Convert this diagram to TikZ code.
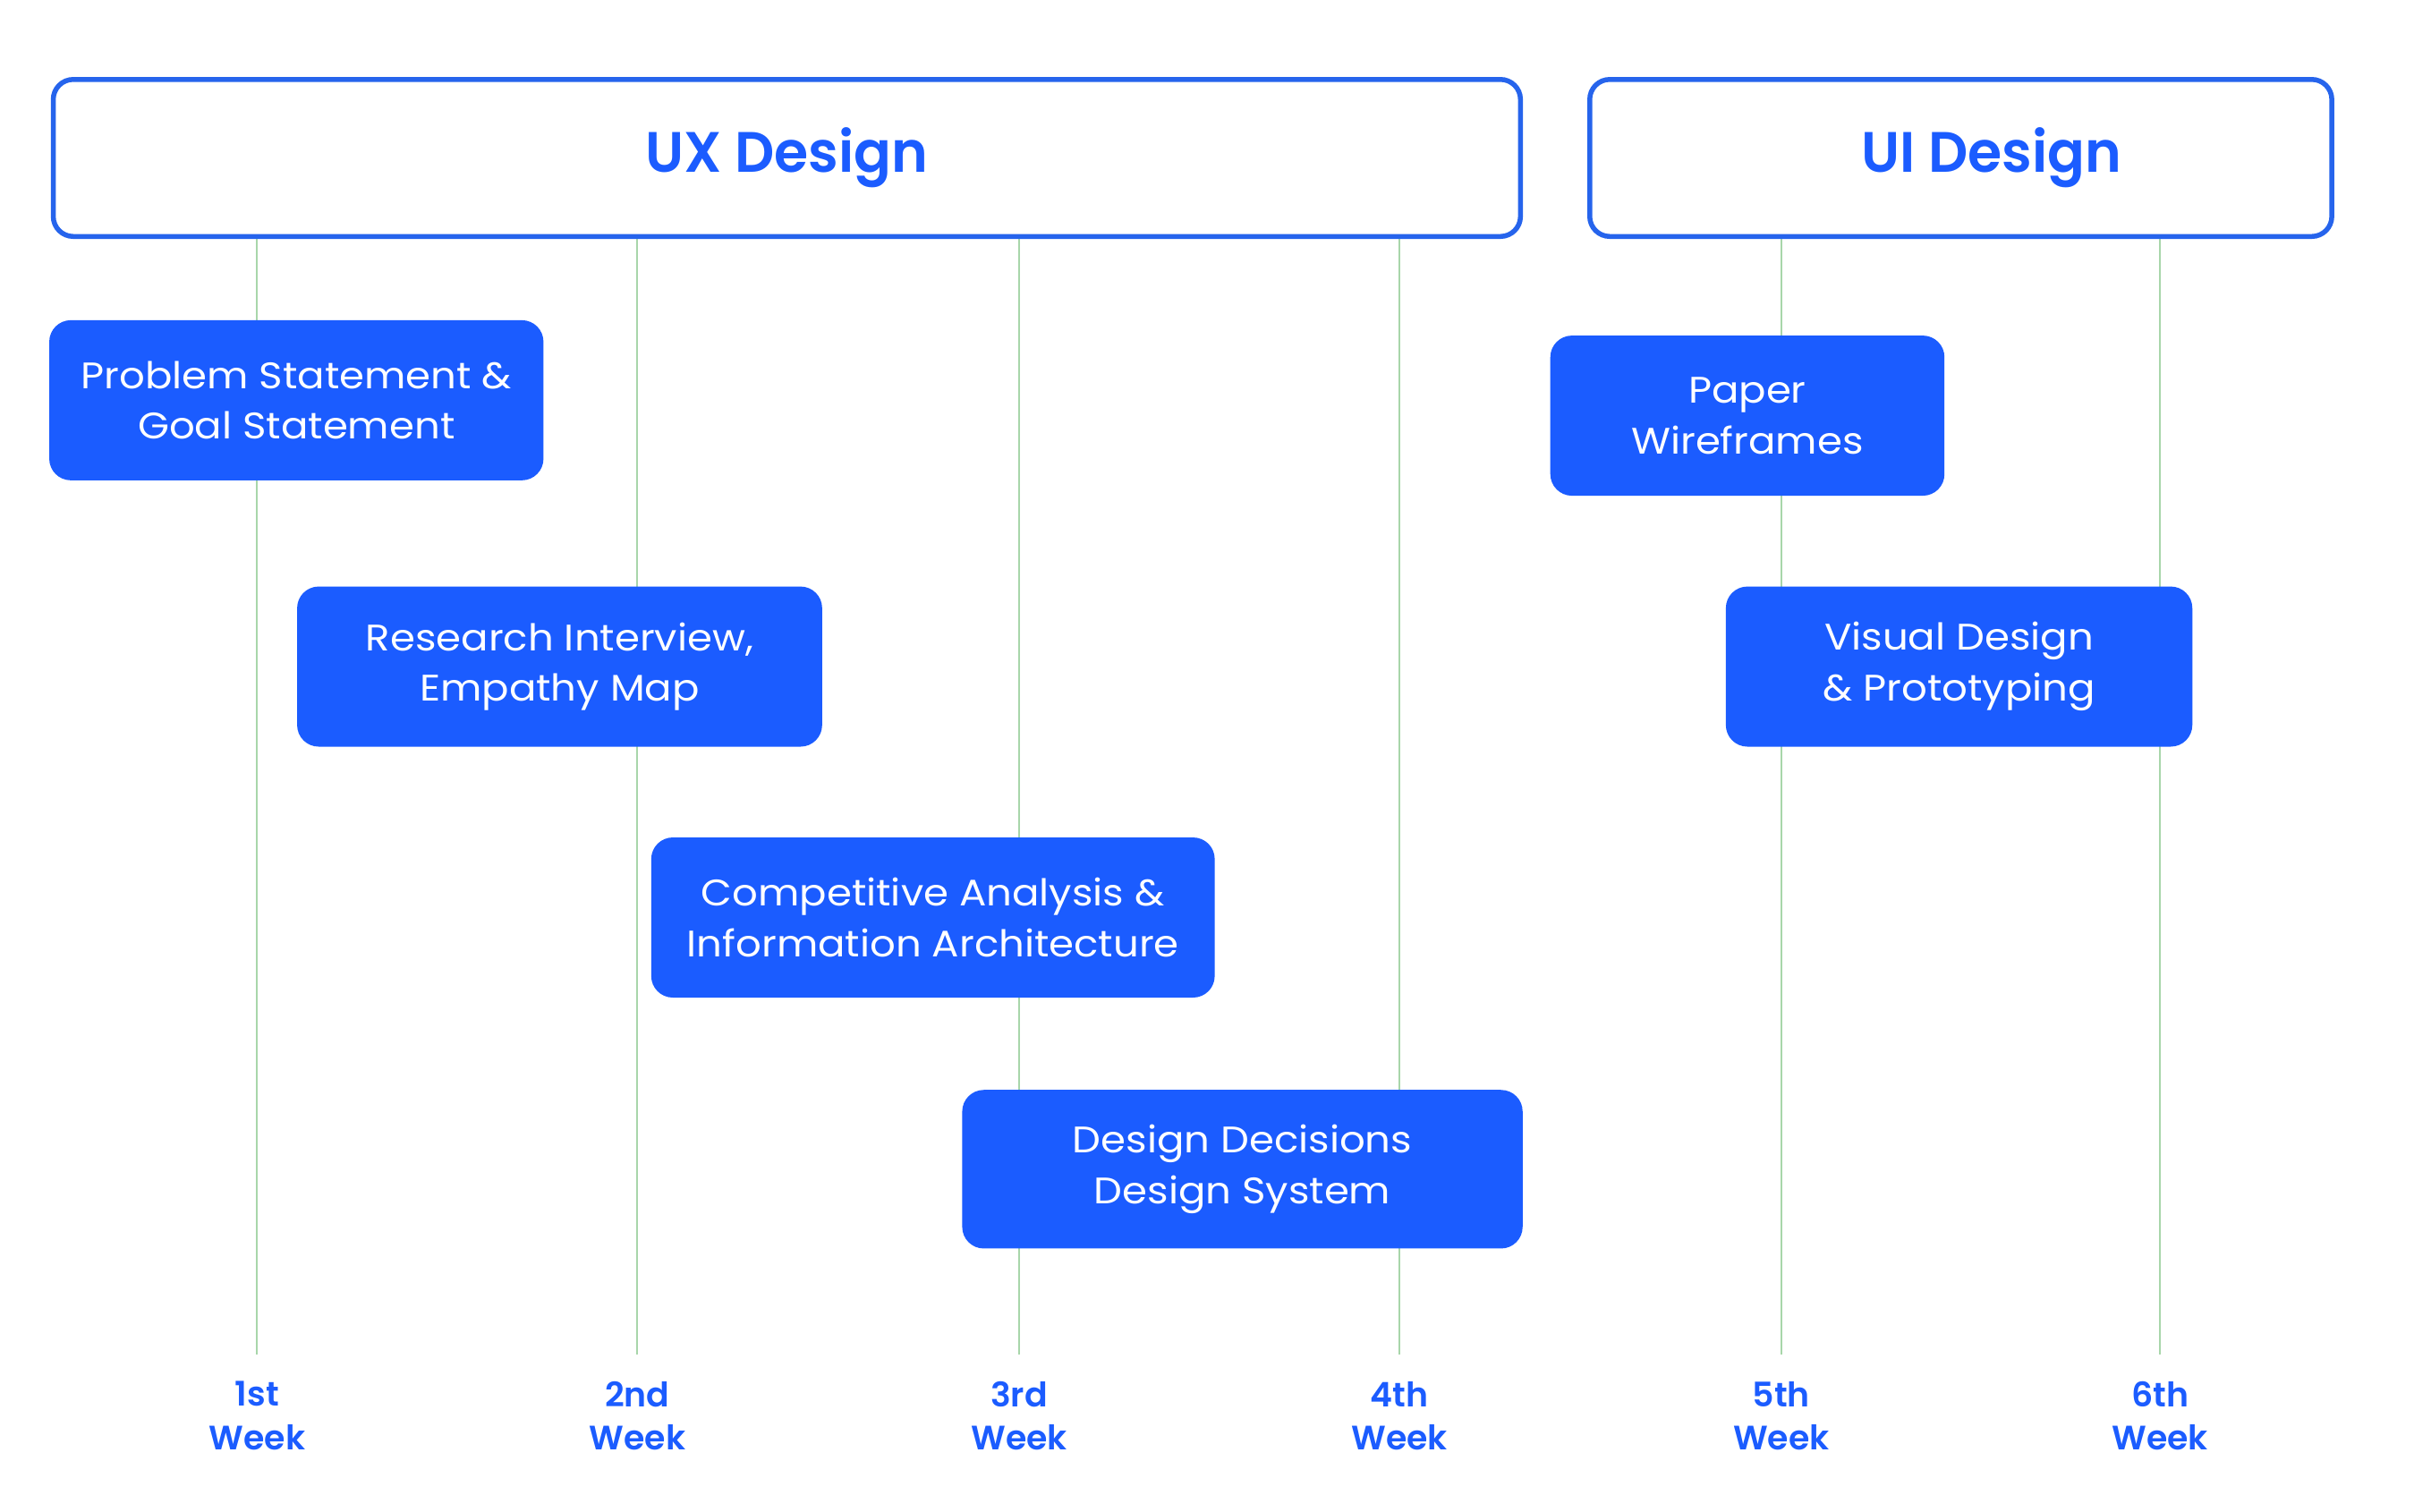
\documentclass[tikz,border=0pt]{standalone}
\usepackage{fontspec}
\setmainfont{Poppins}[BoldFont={Poppins SemiBold}]
\newfontfamily\taskfont{Poppins}[FakeStretch=1.09]
\newfontfamily\hdrfont{Poppins SemiBold}[FakeStretch=0.97]
\definecolor{uiblue}{RGB}{27,92,255}
\definecolor{hdrblue}{RGB}{38,100,236}
\definecolor{gridgreen}{RGB}{168,214,170}
\tikzset{
  hdr/.style={draw=hdrblue, line width=3.2pt, rounded corners=13pt, fill=white,
    anchor=north west, inner sep=0pt},
  hdrtext/.style={text=uiblue, font=\fontsize{37}{40}\hdrfont, inner sep=0pt},
  task/.style={fill=uiblue, rounded corners=14pt, text=white, align=center,
    font=\fontsize{24}{33}\taskfont, inner sep=0pt, anchor=center},
  wk/.style={text=uiblue, align=center, font=\fontsize{22}{28}\selectfont\bfseries, anchor=north},
  gline/.style={draw=gridgreen, line width=1.1pt}
}
\begin{document}
\begin{tikzpicture}[x=1pt,y=-1pt]
\useasboundingbox[fill=white] (0,0) rectangle (1568,982);
% week labels
\foreach \n/\x/\t in {1/167/1st,2/414/2nd,3/662/3rd,4/909/4th,5/1157/5th,6/1403/6th}{
  \node[wk] (w\n) at (\x,894) {\t\\Week};
  \coordinate (t\n) at (\x,152);
  \coordinate (b\n) at (\x,880);
}
\foreach \n in {1,...,6}{ \draw[gline] (t\n) -- (b\n); }
% headers
\node[hdr, minimum width=953pt, minimum height=102pt] (ux) at (33,50) {};
\node[hdrtext] (uxt) at (ux.center) {UX Design};
\node[hdr, minimum width=482pt, minimum height=102pt] (ui) at (1031,50) {};
\node[hdrtext] (uit) at ([xshift=20pt]ui.center) {UI Design};
% tasks
\node[task, minimum width=321pt, minimum height=104pt] (p1) at (192.5,260) {Problem Statement \&\\Goal Statement};
\node[task, minimum width=341pt, minimum height=104pt] (p2) at (363.5,433) {Research Interview,\\Empathy Map};
\node[task, minimum width=366pt, minimum height=104pt] (p3) at (606,596) {Competitive Analysis \&\\Information Architecture};
\node[task, minimum width=364pt, minimum height=103pt] (p4) at (807,759.5) {Design Decisions\\Design System};
\node[task, minimum width=256pt, minimum height=104pt] (p5) at (1135,270) {Paper\\Wireframes};
\node[task, minimum width=303pt, minimum height=104pt] (p6) at (1272.5,433) {Visual Design\\\& Prototyping};
\end{tikzpicture}
\end{document}
